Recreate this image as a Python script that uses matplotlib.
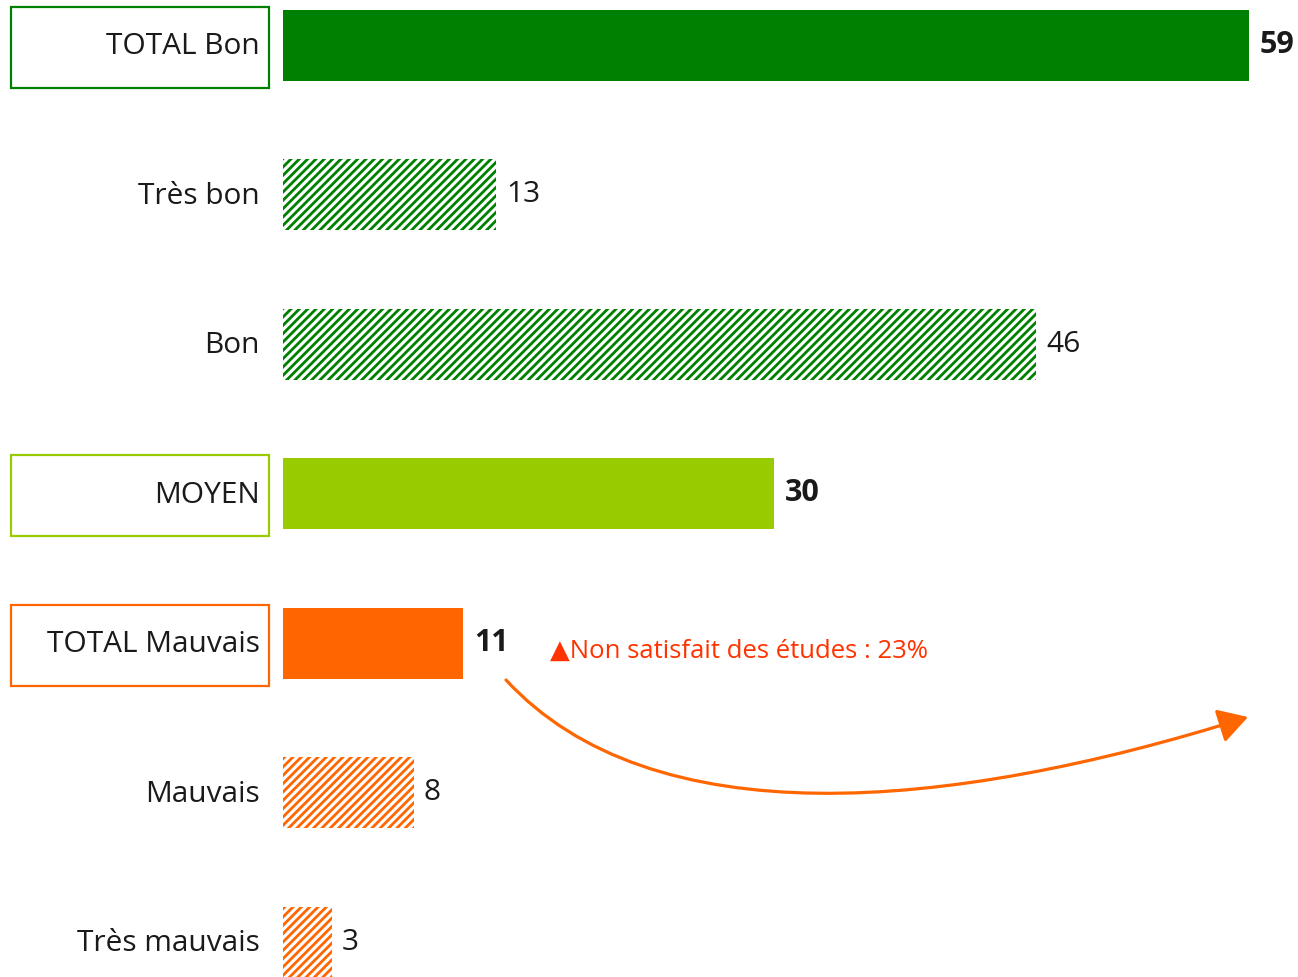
import matplotlib
matplotlib.use('Agg')
import matplotlib.pyplot as plt
from matplotlib.patches import Rectangle, FancyArrowPatch
from matplotlib.path import Path

plt.rcParams['font.family'] = ['Open Sans', 'DejaVu Sans']
plt.rcParams['hatch.linewidth'] = 2.0

# data
categories = ["TOTAL Bon", "Très bon", "Bon", "MOYEN", "TOTAL Mauvais", "Mauvais", "Très mauvais"]
values = [59, 13, 46, 30, 11, 8, 3]
is_total = [True, False, False, True, True, False, False]
colors = ["#008000", "#008000", "#008000", "#99CC00", "#FF6600", "#FF6600", "#FF6600"]
note = "\u25B2Non satisfait des études : 23%"

fig = plt.figure(figsize=(12.98, 9.78), dpi=100)
ax = fig.add_axes([283 / 1298, 0, 966 / 1298, 1])
ax.set_xlim(0, 59)
ax.set_ylim(6.234, -0.308)
ax.axis('off')

px = 59 / 966  # data units per pixel in x

for i, (cat, v, tot, c) in enumerate(zip(categories, values, is_total, colors)):
    if tot:
        ax.barh(i, v, height=0.475, color=c, linewidth=0)
        # framed label
        ax.add_patch(Rectangle((-272 * px, i - 0.255), 258 * px, 0.54,
                               fill=False, edgecolor=c, linewidth=1.6,
                               clip_on=False))
        ax.text(v + 11 * px, i - 0.01, str(v), ha='left', va='center',
                fontsize=22, fontweight='bold', color='#1a1a1a')
    else:
        ax.barh(i, v, height=0.475, color='white', edgecolor=c,
                hatch='////', linewidth=0)
        ax.text(v + 10 * px, i - 0.005, str(v), ha='left', va='center',
                fontsize=21.5, color='#1a1a1a')
    ax.text(-23 * px, i + 0.005, cat, ha='right', va='center', fontsize=21.5,
            color='#1a1a1a', clip_on=False)

# note and curved arrow from TOTAL Mauvais
ax.text(16.3, 4.05, note, ha='left', va='center', fontsize=18.5, color='#FF3300')

verts = [(13.62, 4.247), (22.5, 5.30), (40.5, 5.13), (58.94, 4.495)]
codes = [Path.MOVETO, Path.CURVE4, Path.CURVE4, Path.CURVE4]
arrow = FancyArrowPatch(path=Path(verts, codes),
                        arrowstyle='-|>,head_length=0.6,head_width=0.35',
                        mutation_scale=30, color='#FF6600', linewidth=2.3,
                        clip_on=False)
ax.add_patch(arrow)

fig.savefig("out.png", dpi=100)
